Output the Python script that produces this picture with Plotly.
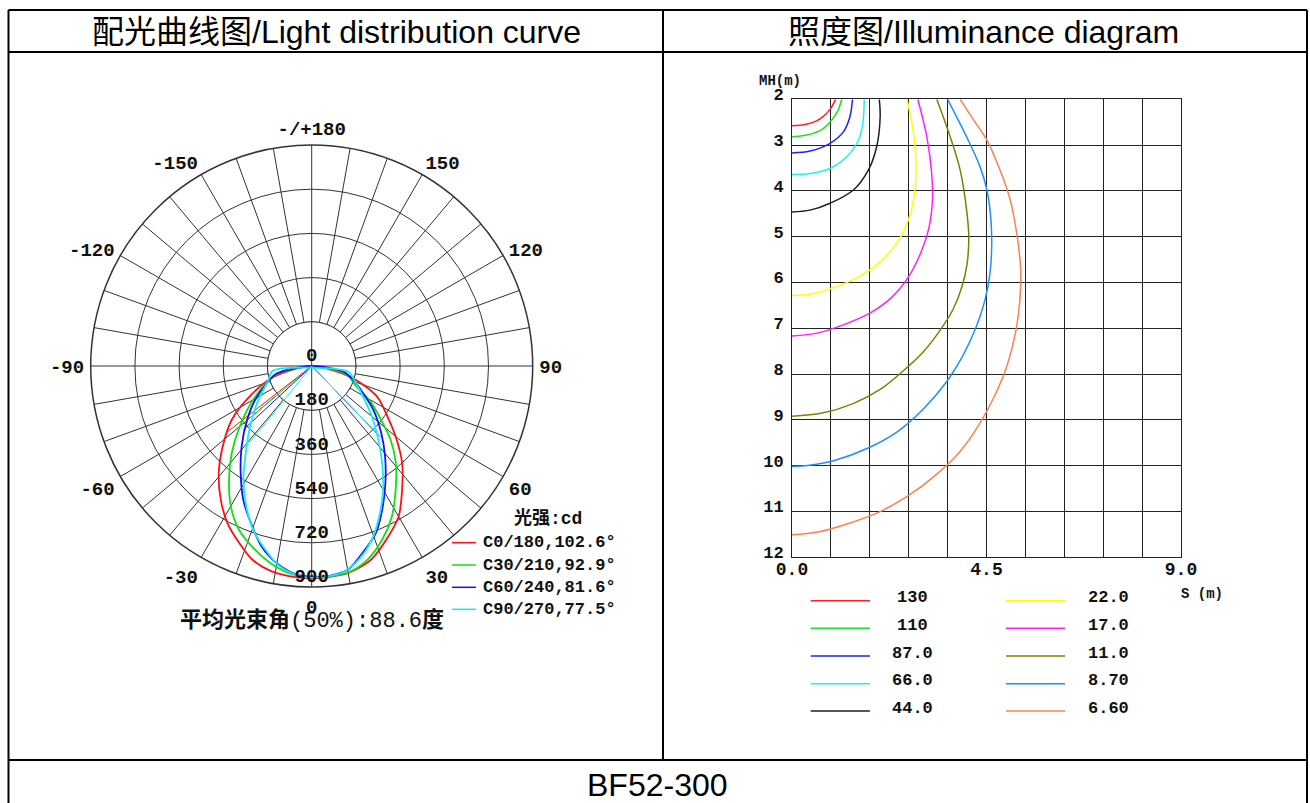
import plotly.graph_objects as go

W, H = 1310, 803

# ---------------- Light distribution curve (polar, cd) ----------------
c0_180_theta = [-80, -74, -64, -56, -48, -41, -34, -28, -22, -17, -11, -4, 0, 4, 10, 17, 23, 30, 36, 43, 49, 56, 65, 74, 80]
c0_180_r     = [0, 162, 280, 393, 487, 577, 661, 728, 781, 825, 852, 863, 865, 863, 856, 825, 772, 708, 626, 540, 459, 374, 293, 169, 0]
c0_180_chord_theta = [-52]
c0_180_chord_r = [437]

c30_210_theta = [-82, -76, -60, -50, -42.5, -36, -30, -24, -17, -10, -4, 0, 4, 10, 16, 22, 28, 34, 41, 47, 52, 59, 65, 76, 82]
c30_210_r     = [0, 154, 275, 382, 482, 573, 659, 729, 784, 831, 857, 861, 860, 854, 821, 764, 695, 611, 522, 439, 360, 278, 202, 147, 0]
c30_210_chord_theta = [-50]
c30_210_chord_r = [382]

c60_240_theta = [-84, -78, -69, -59, -50, -41, -33.5, -27, -21, -15.5, -10, -4, 0, 4.5, 10, 15, 21, 26, 32, 39, 46, 54.5, 62, 73, 80, 86]
c60_240_r     = [0, 146, 196, 269, 344, 435, 524, 613, 688, 763, 816, 853, 858, 858, 843, 791, 729, 654, 566, 475, 394, 309, 238, 170, 131, 0]
c60_240_chord_theta = [-47, 44]
c60_240_chord_r = [380, 400]

c90_270_theta = [-83, -72, -57.5, -45.5, -37, -31, -25, -19.6, -14, -9, -3.6, 0, 4, 9, 14, 19, 24, 30, 36, 42, 50, 59, 70, 81, -83]
c90_270_r     = [160, 185, 258, 352, 447, 540, 631, 709, 773, 827, 857, 861, 860, 847, 808, 750, 674, 582, 488, 406, 320, 245, 188, 151, 160]
c90_270_chord_theta = [-39, 44]
c90_270_chord_r = [430, 405]

polar_names = ["C0/180,102.6°", "C30/210,92.9°", "C60/240,81.6°", "C90/270,77.5°"]
polar_colors = ["#ff1010", "#10e010", "#1010ff", "#10f0f0"]
radial_ticks = [0, 180, 360, 540, 720, 900]
angle_tickvals = list(range(0, 360, 10))
angle_labels = {0: "0", 30: "30", 60: "60", 90: "90", 120: "120", 150: "150",
                180: "-/+180", 210: "-150", 240: "-120", 270: "-90", 300: "-60", 330: "-30"}
beam_text = "<b>平均光束角</b>(50%):88.6<b>度</b>"

# ---------------- Illuminance diagram data (S m, MH m) ----------------
lux_levels = ["130", "110", "87.0", "66.0", "44.0", "22.0", "17.0", "11.0", "8.70", "6.60"]
lux_colors = ["#ff2020", "#20e020", "#2020ff", "#20f0f0", "#202020",
              "#ffff00", "#ff20ff", "#808000", "#1e90ff", "#ff7f50"]
s_130 = [1.01, 0.88, 0.72, 0.57, 0.30, 0.0]
h_130 = [2.0, 2.22, 2.38, 2.47, 2.55, 2.58]
s_110 = [1.15, 1.07, 0.92, 0.69, 0.34, 0.0]
h_110 = [2.0, 2.23, 2.45, 2.66, 2.78, 2.82]
s_87 = [1.40, 1.34, 1.19, 0.88, 0.42, 0.0]
h_87 = [2.0, 2.38, 2.71, 2.96, 3.13, 3.17]
s_66 = [1.67, 1.64, 1.54, 1.27, 0.88, 0.42, 0.0]
h_66 = [2.0, 2.52, 2.89, 3.25, 3.51, 3.62, 3.64]
s_44 = [2.02, 2.04, 1.96, 1.77, 1.42, 0.88, 0.42, 0.0]
h_44 = [2.0, 2.38, 3.03, 3.54, 3.98, 4.27, 4.42, 4.46]
s_22 = [2.66, 2.79, 2.86, 2.86, 2.78, 2.60, 2.33, 1.98, 1.55, 1.05, 0.5, 0.0]
h_22 = [2.0, 2.6, 3.2, 3.8, 4.35, 4.85, 5.25, 5.6, 5.87, 6.08, 6.24, 6.29]
s_17 = [2.91, 3.12, 3.23, 3.25, 3.17, 2.98, 2.68, 2.30, 1.80, 1.20, 0.6, 0.0]
h_17 = [2.0, 2.82, 3.6, 4.2, 4.8, 5.35, 5.9, 6.33, 6.67, 6.92, 7.1, 7.17]
s_11 = [3.35, 3.66, 3.89, 4.04, 4.09, 4.05, 3.93, 3.72, 3.42, 3.05, 2.55, 2.05, 1.40, 0.7, 0.0]
h_11 = [2.0, 2.82, 3.54, 4.42, 5.0, 5.6, 6.1, 6.6, 7.05, 7.5, 7.95, 8.33, 8.65, 8.85, 8.92]
s_87b = [3.60, 4.04, 4.35, 4.51, 4.60, 4.62, 4.58, 4.46, 4.25, 3.95, 3.55, 3.05, 2.45, 1.75, 1.0, 0.4, 0.0]
h_87b = [2.0, 2.82, 3.47, 3.98, 4.6, 5.2, 5.8, 6.4, 7.0, 7.6, 8.2, 8.75, 9.25, 9.62, 9.88, 9.99, 10.02]
s_66b = [3.89, 4.20, 4.51, 4.81, 5.05, 5.21, 5.29, 5.27, 5.17, 4.98, 4.70, 4.33, 3.88, 3.33, 2.70, 2.00, 1.25, 0.6, 0.0]
h_66b = [2.0, 2.45, 2.89, 3.54, 4.2, 5.0, 5.7, 6.4, 7.1, 7.8, 8.45, 9.1, 9.7, 10.2, 10.65, 11.02, 11.28, 11.45, 11.51]
x_tickvals = [0.0, 0.9, 1.8, 2.7, 3.6, 4.5, 5.4, 6.3, 7.2, 8.1, 9.0]
x_ticktext = ["0.0", "", "", "", "", "4.5", "", "", "", "", "9.0"]
y_tickvals = [2, 3, 4, 5, 6, 7, 8, 9, 10, 11, 12]

MONO = "Liberation Mono, Noto Sans CJK SC, monospace"
GRID = "#333333"

fig = go.Figure()

# --- polar chart ---
disk_theta = list(range(0, 361, 5))
fig.add_trace(go.Scatterpolar(theta=disk_theta, r=[radial_ticks[1]] * len(disk_theta), mode="lines",
                              fill="toself", fillcolor="white", line=dict(color=GRID, width=1),
                              showlegend=False, hoverinfo="skip"))
fig.add_trace(go.Scatterpolar(theta=[90, 90, 270, None, 0, 0, 180],
                              r=[radial_ticks[1], 0, radial_ticks[1], None, radial_ticks[1], 0, radial_ticks[1]],
                              mode="lines", line=dict(color=GRID, width=1), showlegend=False, hoverinfo="skip"))

curves = [(c0_180_theta, c0_180_r, c0_180_chord_theta, c0_180_chord_r),
          (c30_210_theta, c30_210_r, c30_210_chord_theta, c30_210_chord_r),
          (c60_240_theta, c60_240_r, c60_240_chord_theta, c60_240_chord_r),
          (c90_270_theta, c90_270_r, c90_270_chord_theta, c90_270_chord_r)]
for (th, rr, cth, cr), col in zip(curves, polar_colors):
    ct, crr = [], []
    for t, r in zip(cth, cr):
        ct += [t, t, None]
        crr += [0, r, None]
    fig.add_trace(go.Scatterpolar(theta=ct, r=crr, mode="lines", line=dict(color=col, width=1),
                                  showlegend=False, connectgaps=False, hoverinfo="skip"))
    fig.add_trace(go.Scatterpolar(theta=th, r=rr, mode="lines",
                                  line=dict(color=col, width=1.8, shape="spline", smoothing=0.8),
                                  showlegend=False))

fig.add_trace(go.Scatterpolar(theta=[0] * len(radial_ticks), r=radial_ticks, mode="text",
                              text=[str(v) for v in radial_ticks], textposition="top center",
                              marker=dict(size=0),
                              textfont=dict(family=MONO, size=19, color="#111", weight="bold"),
                              showlegend=False, hoverinfo="skip"))

cx, cy, R = 311.7, 366.0, 221.0
fig.update_layout(polar=dict(
    domain=dict(x=[(cx - R) / W, (cx + R) / W], y=[1 - (cy + R) / H, 1 - (cy - R) / H]),
    bgcolor="white",
    angularaxis=dict(rotation=-90, direction="counterclockwise",
                     tickvals=angle_tickvals,
                     ticktext=[angle_labels.get(v, "") for v in angle_tickvals],
                     tickfont=dict(family=MONO, size=19, color="#111", weight="bold"),
                     showgrid=True, gridcolor=GRID, gridwidth=1,
                     showline=True, linecolor=GRID, linewidth=1.5,
                     ticks="outside", ticklen=2, tickcolor="rgba(0,0,0,0)"),
    radialaxis=dict(range=[0, 900], tickvals=radial_ticks[1:], showticklabels=False,
                    showgrid=True, gridcolor=GRID, gridwidth=1, showline=False, ticks=""),
))

# --- illuminance chart ---
iso_s = [s_130, s_110, s_87, s_66, s_44, s_22, s_17, s_11, s_87b, s_66b]
iso_h = [h_130, h_110, h_87, h_66, h_44, h_22, h_17, h_11, h_87b, h_66b]
for s, h, col in zip(iso_s, iso_h, lux_colors):
    fig.add_trace(go.Scatter(x=s, y=h, mode="lines",
                             line=dict(color=col, width=1.5, shape="spline", smoothing=1.0),
                             showlegend=False, xaxis="x", yaxis="y"))

x0p, x1p, ytp, ybp = 792, 1181, 99.3, 557.3
fig.update_layout(
    xaxis=dict(domain=[x0p / W, x1p / W], range=[0, 9], tickvals=x_tickvals, ticktext=x_ticktext,
               showgrid=True, gridcolor="#222", gridwidth=1, zeroline=False, automargin=False,
               showline=True, mirror=True, linecolor="#222", linewidth=1, ticks="",
               ticklabelstandoff=-5,
               tickfont=dict(family=MONO, size=18, color="#111", weight="bold")),
    yaxis=dict(domain=[1 - ybp / H, 1 - ytp / H], range=[12, 2], tickvals=y_tickvals,
               showgrid=True, gridcolor="#222", gridwidth=1, zeroline=False, automargin=False,
               showline=True, mirror=True, linecolor="#222", linewidth=1, ticks="",
               ticklabelshift=5, ticklabelstandoff=4,
               tickfont=dict(family=MONO, size=17, color="#111", weight="bold")),
)

shapes = []
ann = []

def px(x):
    return x / W

def py(y):
    return 1 - y / H

# table frame
for (xa, ya, xb, yb) in [(8.5, 10, 1307, 10), (8.5, 52, 1307, 52), (8.5, 760, 1307, 760),
                         (8.5, 10, 8.5, 803), (1307, 10, 1307, 803), (663, 10, 663, 760)]:
    shapes.append(dict(type="line", xref="paper", yref="paper", x0=px(xa), y0=py(ya), x1=px(xb), y1=py(yb),
                       line=dict(color="black", width=2)))

HEAD = "Liberation Sans, Arial, Noto Sans CJK SC, sans-serif"
for t, xx, yy in [("配光曲线图/Light distribution curve", 336, 32),
                  ("照度图/Illuminance diagram", 983, 32),
                  ("BF52-300", 657, 785)]:
    ann.append(dict(text=t, x=px(xx), y=py(yy), xref="paper", yref="paper", showarrow=False,
                    xanchor="center", yanchor="middle", font=dict(family=HEAD, size=32, color="black")))

# polar legend
ann.append(dict(text="<b>光强:cd</b>", x=px(548), y=py(518), xref="paper", yref="paper", showarrow=False,
                xanchor="center", yanchor="middle", font=dict(family=MONO, size=18, color="#111")))
prow = [542.7, 565, 587.3, 609.3]
for name, col, yy in zip(polar_names, polar_colors, prow):
    shapes.append(dict(type="line", xref="paper", yref="paper", x0=px(452), x1=px(476), y0=py(yy), y1=py(yy),
                       line=dict(color=col, width=1.5)))
    ann.append(dict(text=name, x=px(481), y=py(yy), xref="paper", yref="paper", showarrow=False,
                    xanchor="left", yanchor="middle",
                    font=dict(family=MONO, size=17, color="#111", weight="bold")))
ann.append(dict(text=beam_text, x=px(312), y=py(621), xref="paper", yref="paper", showarrow=False,
                xanchor="center", yanchor="middle", font=dict(family=MONO, size=22, color="#111")))

# illuminance labels & legend
ann.append(dict(text="<b>MH(m)</b>", x=px(780), y=py(81), xref="paper", yref="paper", showarrow=False,
                xanchor="center", yanchor="middle", font=dict(family=MONO, size=14, color="#111")))
ann.append(dict(text="<b>S (m)</b>", x=px(1202), y=py(594), xref="paper", yref="paper", showarrow=False,
                xanchor="center", yanchor="middle", font=dict(family=MONO, size=14, color="#111")))
lrow = [600.7, 628.3, 656, 683.7, 711]
for i, (lab, col) in enumerate(zip(lux_levels, lux_colors)):
    c = i // 5
    yy = lrow[i % 5]
    lx0, lx1, tx = (810.7, 870, 912) if c == 0 else (1006, 1065, 1108)
    shapes.append(dict(type="line", xref="paper", yref="paper", x0=px(lx0), x1=px(lx1), y0=py(yy), y1=py(yy),
                       line=dict(color=col, width=1.5)))
    ann.append(dict(text="<b>" + lab + "</b>", x=px(tx), y=py(yy - 3), xref="paper", yref="paper", showarrow=False,
                    xanchor="center", yanchor="middle", font=dict(family=MONO, size=17, color="#111")))

fig.update_layout(width=W, height=H, margin=dict(l=0, r=0, t=0, b=0, pad=0, autoexpand=False), autosize=False,
                  paper_bgcolor="white", plot_bgcolor="white", showlegend=False,
                  shapes=shapes, annotations=ann)

fig.write_html("out.html", config={"displayModeBar": False},
               post_script="document.body.style.margin='0';document.body.style.overflow='hidden';"
                           "document.documentElement.style.overflow='hidden';")
